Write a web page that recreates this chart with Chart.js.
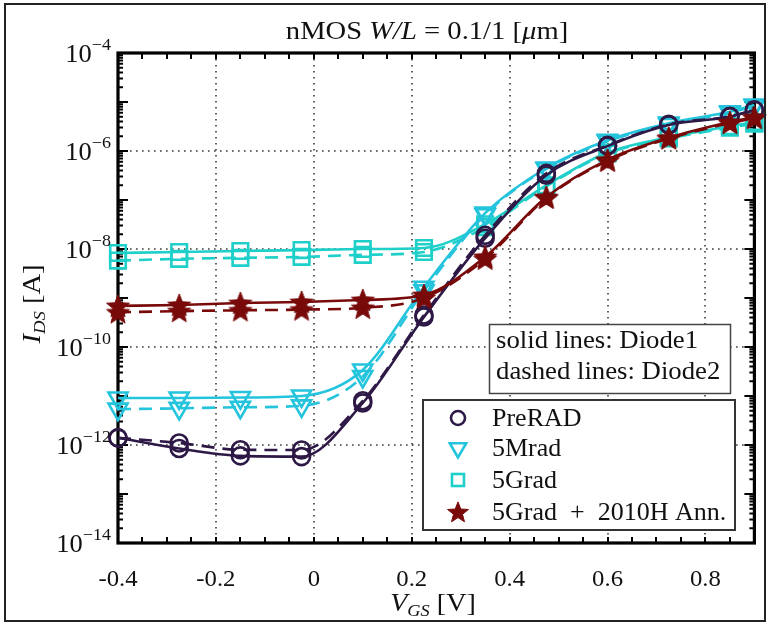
<!DOCTYPE html>
<html>
<head>
<meta charset="utf-8">
<title>nMOS W/L = 0.1/1 transfer characteristics</title>
<style>
  html, body { margin: 0; padding: 0; background: #fff; }
  #wrap { position: relative; width: 769px; height: 626px; }
</style>
<script src="https://cdn.jsdelivr.net/npm/chart.js@4.4.0/dist/chart.umd.min.js"></script>
</head>
<body>
<div id="wrap"><canvas id="chart" width="769" height="626"></canvas></div>
<script>
// Gate-source voltage at which each curve was sampled [V]
const vgs = [-0.4, -0.275, -0.15, -0.025, 0.1, 0.225, 0.35, 0.475, 0.6, 0.725, 0.85, 0.9];

// Drain current I_DS [A]; D1 = Diode1 (solid), D2 = Diode2 (dashed)
const preradD1 = [1.4e-12, 8.5e-13, 6.0e-13, 5.8e-13, 7.2e-12, 4.1e-10, 1.66e-8, 3.2e-7, 1.26e-6, 3.4e-6, 5.0e-6, 6.9e-6];
const preradD2 = [1.4e-12, 1.1e-12, 8.0e-13, 7.9e-13, 8.0e-12, 4.5e-10, 1.9e-8, 3.5e-7, 1.3e-6, 3.5e-6, 5.1e-6, 6.8e-6];
const mrad5D1  = [9.1e-12, 9.1e-12, 9.3e-12, 1.0e-11, 3.4e-11, 1.66e-9, 5.4e-8, 4.5e-7, 1.66e-6, 3.7e-6, 6.3e-6, 8.7e-6];
const mrad5D2  = [5.4e-12, 5.6e-12, 5.9e-12, 6.3e-12, 2.5e-11, 1.4e-9, 5.0e-8, 4.3e-7, 1.58e-6, 3.5e-6, 6.0e-6, 8.3e-6];
const grad5D1  = [8.3e-9, 8.7e-9, 9.1e-9, 9.5e-9, 1.0e-8, 1.05e-8, 3.2e-8, 2.0e-7, 9.3e-7, 1.9e-6, 3.2e-6, 3.9e-6];
const grad5D2  = [5.8e-9, 6.3e-9, 6.6e-9, 6.9e-9, 7.6e-9, 8.7e-9, 2.8e-8, 1.9e-7, 8.9e-7, 1.8e-6, 3.0e-6, 3.6e-6];
const annD1    = [6.9e-10, 7.2e-10, 7.9e-10, 8.3e-10, 9.1e-10, 1.15e-9, 6.9e-9, 1.15e-7, 6.6e-7, 1.86e-6, 3.9e-6, 4.9e-6];
const annD2    = [5.1e-10, 5.4e-10, 5.6e-10, 5.8e-10, 6.3e-10, 1.0e-9, 6.3e-9, 1.1e-7, 6.3e-7, 1.8e-6, 3.7e-6, 4.7e-6];

// Axis ticks and labels
const xTickValues = [-0.4, -0.2, 0, 0.2, 0.4, 0.6, 0.8];
const xTickLabels = ['-0.4', '-0.2', '0', '0.2', '0.4', '0.6', '0.8'];
const yTickExponents = [-4, -6, -8, -10, -12, -14];

const seriesNames = ['PreRAD', '5Mrad', '5Grad', '5Grad\u2002+\u20022010H Ann.'];
const noteLines = ['solid lines: Diode1', 'dashed lines: Diode2'];

const C_PRE = '#2e1946';
const C_MRAD = '#25c4dd';
const C_GRAD = '#1fcfc9';
const C_ANN = '#790a0a';

const SERIF = '"Liberation Serif", "DejaVu Serif", serif';

function makeStar(r, color) {
  const c = document.createElement('canvas');
  const s = Math.ceil(r * 2 + 4);
  c.width = s; c.height = s;
  const g = c.getContext('2d');
  g.translate(s / 2, s / 2 + r * 0.08);
  g.beginPath();
  for (let i = 0; i < 10; i++) {
    const rr = i % 2 ? r * 0.43 : r;
    const a = -Math.PI / 2 + i * Math.PI / 5;
    g.lineTo(rr * Math.cos(a), rr * Math.sin(a));
  }
  g.closePath();
  g.fillStyle = color; g.fill();
  g.lineJoin = 'miter'; g.strokeStyle = color; g.lineWidth = 1; g.stroke();
  return c;
}
const starPlot = makeStar(12, C_ANN);
const starLegend = makeStar(11, C_ANN);

function series(label, data, color, style, radius, dashed, rotation) {
  return {
    label,
    data: data.map((v, i) => ({ x: vgs[i], y: v })),
    borderColor: color,
    backgroundColor: style === starPlot ? color : 'rgba(0,0,0,0)',
    borderWidth: 2.6,
    borderDash: dashed ? [13, 8] : [],
    pointStyle: style,
    pointRadius: radius,
    pointRotation: rotation || 0,
    pointBorderColor: color,
    pointBackgroundColor: 'rgba(0,0,0,0)',
    pointBorderWidth: 2.6,
    cubicInterpolationMode: 'monotone',
    fill: false,
    clip: false
  };
}

// mixed-font text run; sx stretches the run horizontally
function richWidth(ctx, parts) {
  let w = 0;
  for (const p of parts) { ctx.font = p.f; w += ctx.measureText(p.t).width; }
  return w;
}
function drawRich(ctx, parts, x, y, align, sx) {
  sx = sx || 1;
  const w = richWidth(ctx, parts) * sx;
  const x0 = align === 'center' ? x - w / 2 : align === 'right' ? x - w : x;
  ctx.save();
  ctx.translate(x0, y);
  ctx.scale(sx, 1);
  ctx.textAlign = 'left';
  ctx.textBaseline = 'alphabetic';
  let cx = 0;
  for (const p of parts) {
    ctx.font = p.f;
    ctx.fillText(p.t, cx, p.dy || 0);
    cx += ctx.measureText(p.t).width;
  }
  ctx.restore();
}

function drawMarker(ctx, kind, x, y) {
  ctx.save();
  ctx.lineWidth = 2.6;
  if (kind === 0) {
    ctx.strokeStyle = C_PRE;
    ctx.beginPath(); ctx.arc(x, y, 7, 0, Math.PI * 2); ctx.stroke();
  } else if (kind === 1) {
    ctx.strokeStyle = C_MRAD;
    const r = 9.5;
    ctx.beginPath();
    for (let i = 0; i < 3; i++) {
      const a = Math.PI + i * 2 * Math.PI / 3;
      ctx.lineTo(x + Math.sin(a) * r, y - Math.cos(a) * r);
    }
    ctx.closePath(); ctx.stroke();
  } else if (kind === 2) {
    ctx.strokeStyle = C_GRAD;
    ctx.strokeRect(x - 6, y - 6, 12, 12);
  } else {
    ctx.drawImage(starLegend, x - starLegend.width / 2, y - starLegend.height / 2);
  }
  ctx.restore();
}

const decor = {
  id: 'decor',
  beforeDatasetsDraw(chart) {
    const { ctx, chartArea: a, scales: { x, y } } = chart;
    ctx.save();
    // dotted grid
    ctx.strokeStyle = '#3a3a3a';
    ctx.lineWidth = 1.6;
    ctx.setLineDash([1.6, 4.4]);
    ctx.beginPath();
    for (const v of xTickValues) {
      const px = Math.round(x.getPixelForValue(v));
      if (px <= a.left + 2) continue;
      ctx.moveTo(px, a.top); ctx.lineTo(px, a.bottom);
    }
    for (const e of yTickExponents) {
      const py = Math.round(y.getPixelForValue(Math.pow(10, e)));
      if (py <= a.top + 2 || py >= a.bottom - 2) continue;
      ctx.moveTo(a.left, py); ctx.lineTo(a.right, py);
    }
    ctx.stroke();
    ctx.setLineDash([]);

    // inward ticks on all four sides
    ctx.strokeStyle = '#000';
    ctx.lineWidth = 2;
    ctx.beginPath();
    for (let k = 0; k <= 26; k++) {
      const v = -0.4 + k * 0.05;
      const px = Math.round(x.getPixelForValue(v));
      const len = 6;
      ctx.moveTo(px, a.bottom); ctx.lineTo(px, a.bottom - len);
      ctx.moveTo(px, a.top); ctx.lineTo(px, a.top + len);
    }
    for (let e = -14; e <= -4; e++) {
      const py = y.getPixelForValue(Math.pow(10, e));
      ctx.moveTo(a.left, py); ctx.lineTo(a.left + 10, py);
      ctx.moveTo(a.right, py); ctx.lineTo(a.right - 10, py);
      if (e < -4) {
        for (let m = 2; m <= 9; m++) {
          const pm = y.getPixelForValue(m * Math.pow(10, e));
          ctx.moveTo(a.left, pm); ctx.lineTo(a.left + 5, pm);
          ctx.moveTo(a.right, pm); ctx.lineTo(a.right - 5, pm);
        }
      }
    }
    ctx.stroke();

    // plot frame
    ctx.lineWidth = 3.2;
    ctx.strokeRect(a.left, a.top, a.right - a.left, a.bottom - a.top);
    ctx.restore();
  },
  afterDatasetsDraw(chart) {
    const { ctx, chartArea: a, scales: { x, y } } = chart;
    ctx.save();
    ctx.fillStyle = '#111';
    const R = (s) => s + 'px ' + SERIF;
    const I = (s) => 'italic ' + s + 'px ' + SERIF;

    // x tick labels
    xTickValues.forEach((v, i) => {
      drawRich(ctx, [{ t: xTickLabels[i], f: R(24) }], x.getPixelForValue(v), a.bottom + 43, 'center', 1.03);
    });

    // y tick labels 10^n
    for (const e of yTickExponents) {
      const py = y.getPixelForValue(Math.pow(10, e));
      drawRich(ctx, [
        { t: '10', f: R(25) },
        { t: '\u2212' + Math.abs(e), f: R(17), dy: -12 }
      ], a.left - 7, py + 9, 'right', 1.06);
    }

    // axis titles
    drawRich(ctx, [
      { t: 'V', f: I(26) },
      { t: 'GS', f: I(17), dy: 5 },
      { t: ' [V]', f: R(26) }
    ], 433, 611, 'center', 1.08);

    ctx.save();
    ctx.translate(40, 304);
    ctx.rotate(-Math.PI / 2);
    drawRich(ctx, [
      { t: 'I', f: I(26) },
      { t: 'DS', f: I(17), dy: 5 },
      { t: ' [A]', f: R(26) }
    ], 0, 0, 'center', 1.1);
    ctx.restore();

    // title
    drawRich(ctx, [
      { t: 'nMOS ', f: R(26) },
      { t: 'W/L', f: I(26) },
      { t: ' = 0.1/1 [', f: R(26) },
      { t: '\u03bc', f: I(26) },
      { t: 'm]', f: R(26) }
    ], 427, 39, 'center', 1.1);

    // note box
    ctx.fillStyle = '#fff';
    ctx.fillRect(489, 324, 241, 69);
    ctx.strokeStyle = '#444';
    ctx.lineWidth = 1.5;
    ctx.strokeRect(489.5, 324.5, 241, 69);
    ctx.fillStyle = '#111';
    drawRich(ctx, [{ t: noteLines[0], f: R(25) }], 496, 348, 'left', 1.07);
    drawRich(ctx, [{ t: noteLines[1], f: R(25) }], 496, 379, 'left', 1.07);

    // series legend
    ctx.fillStyle = '#fff';
    ctx.fillRect(423, 400, 312, 130);
    ctx.strokeStyle = '#333';
    ctx.lineWidth = 2;
    ctx.strokeRect(423, 400, 312, 130);
    const rows = [418, 448, 480, 512];
    seriesNames.forEach((name, i) => {
      drawMarker(ctx, i, 458, rows[i]);
      ctx.fillStyle = '#111';
      drawRich(ctx, [{ t: name, f: R(25) }], 492, rows[i] + 8, 'left', 1.04);
    });

    // figure border
    ctx.strokeStyle = '#222';
    ctx.lineWidth = 2;
    ctx.strokeRect(5, 4, 760, 617);
    ctx.restore();
  }
};

new Chart(document.getElementById('chart'), {
  type: 'line',
  data: {
    datasets: [
      series('5Grad + 2010H Ann. (Diode1)', annD1, C_ANN, starPlot, 12, false),
      series('5Grad + 2010H Ann. (Diode2)', annD2, C_ANN, starPlot, 12, true),
      series('PreRAD (Diode1)', preradD1, C_PRE, 'circle', 8.5, false),
      series('PreRAD (Diode2)', preradD2, C_PRE, 'circle', 8.5, true),
      series('5Mrad (Diode1)', mrad5D1, C_MRAD, 'triangle', 11, false, 180),
      series('5Mrad (Diode2)', mrad5D2, C_MRAD, 'triangle', 11, true, 180),
      series('5Grad (Diode1)', grad5D1, C_GRAD, 'rect', 11, false),
      series('5Grad (Diode2)', grad5D2, C_GRAD, 'rect', 11, true)
    ]
  },
  options: {
    responsive: false,
    animation: false,
    devicePixelRatio: 1,
    layout: { padding: { left: 118, top: 53, right: 14, bottom: 83 } },
    plugins: { legend: { display: false }, tooltip: { enabled: false }, title: { display: false } },
    scales: {
      x: { type: 'linear', display: false, min: -0.4, max: 0.9 },
      y: { type: 'logarithmic', display: false, min: 1e-14, max: 1e-4 }
    }
  },
  plugins: [decor]
});
</script>
</body>
</html>
